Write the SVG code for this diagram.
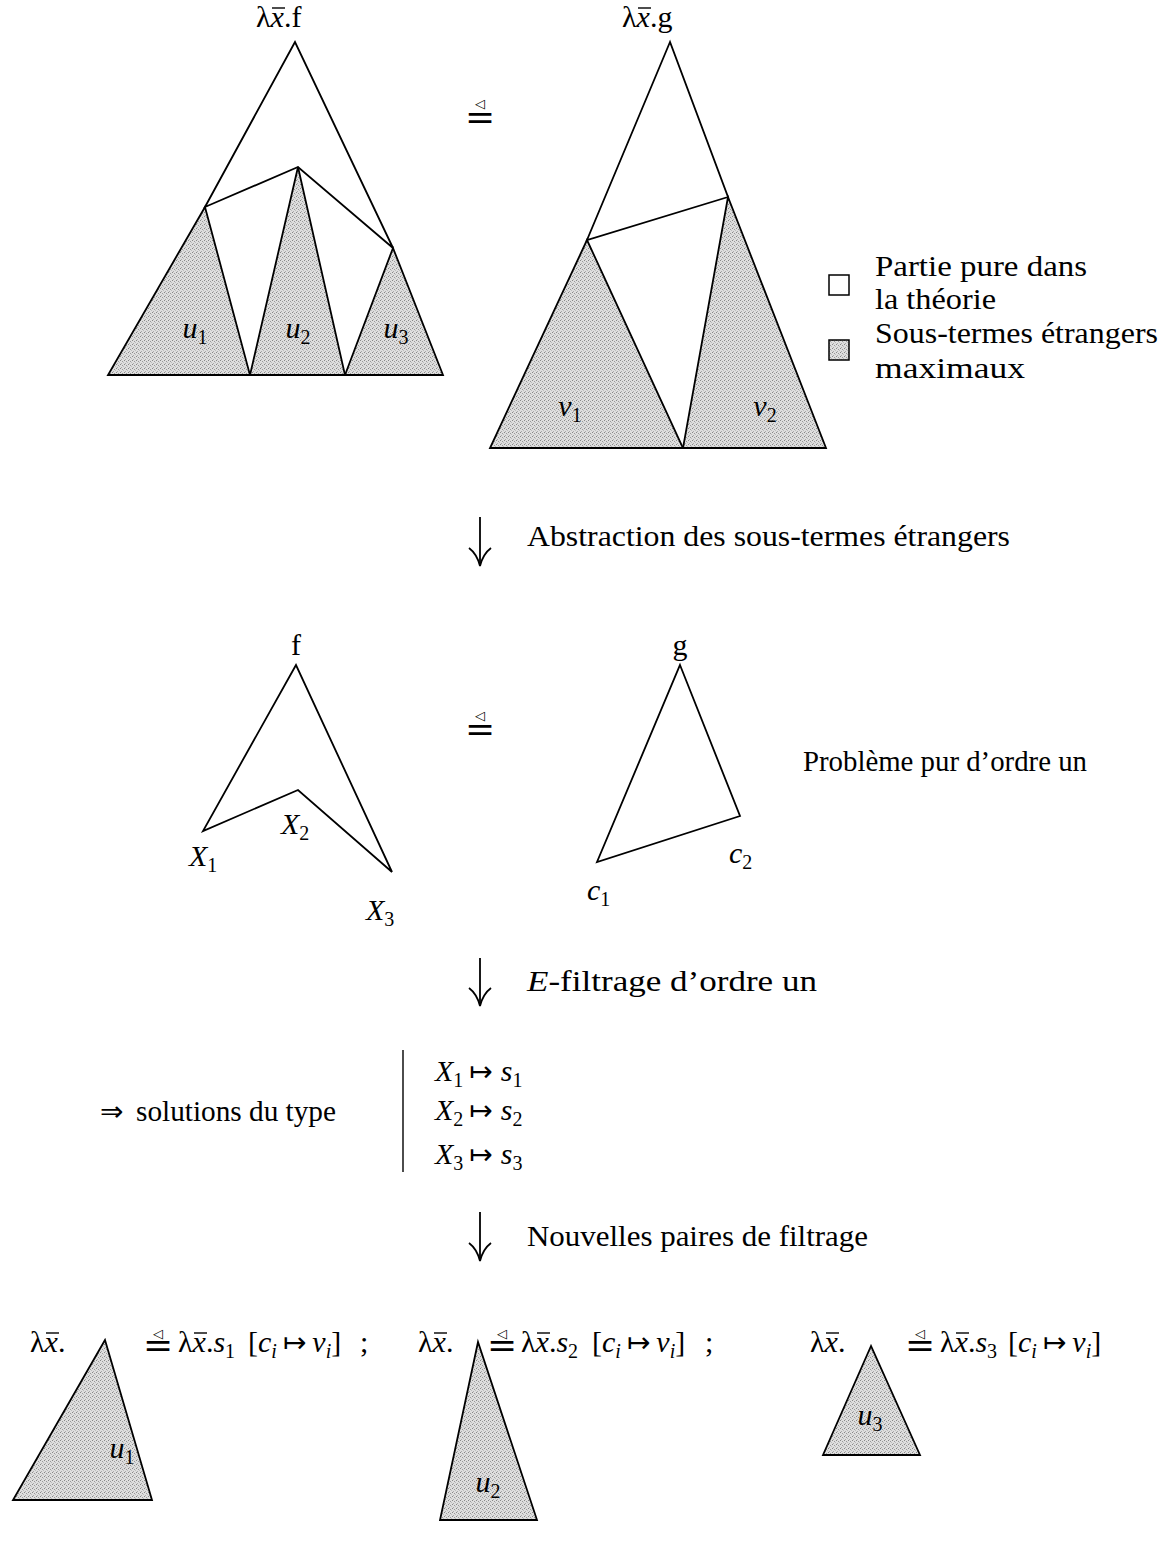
<svg xmlns="http://www.w3.org/2000/svg" width="1175" height="1543" viewBox="0 0 1175 1543">
<style>
.t{font-family:"Liberation Serif","DejaVu Serif",serif;font-size:30px;fill:#000}
.i{font-style:italic}
.n{font-style:normal}
.sub{font-size:20px}
.ar{font-family:"DejaVu Sans",sans-serif;font-size:28px;font-style:normal}
.ln{fill:none;stroke:#000;stroke-width:1.8;stroke-linejoin:miter}
.g{fill:url(#stip);stroke:#000;stroke-width:1.8}
.w{fill:#fff;stroke:#000;stroke-width:1.8}
.ov{stroke:#000;stroke-width:1.4}
.eqs{font-family:"DejaVu Serif",serif;font-size:36px}
.tri{font-family:"DejaVu Sans",sans-serif;font-size:13px}
</style>
<defs>
<pattern id="stip" width="4" height="4" patternUnits="userSpaceOnUse">
<rect width="4" height="4" fill="#dedede"/>
<rect x="0" y="0" width="1" height="1" fill="#888"/>
<rect x="2" y="1" width="1" height="1" fill="#999"/>
<rect x="1" y="3" width="1" height="1" fill="#aaa"/>
<rect x="3" y="2" width="1" height="1" fill="#bbb"/>
</pattern>
</defs>
<rect width="1175" height="1543" fill="#fff"/>

<!-- Top left tree -->
<g id="tree-f">
<text class="t" x="256" y="27">λ<tspan class="i">x</tspan>.f</text>
<line class="ov" x1="272" y1="8" x2="285" y2="8"/>
<polygon class="w" points="295,42 205,207 298,167 393,248"/>
<polygon class="g" points="205,207 108,375 250,375"/>
<polygon class="g" points="298,167 250,375 345,375"/>
<polygon class="g" points="393,248 345,375 443,375"/>
<text class="t i" x="195" y="338" text-anchor="middle">u<tspan class="sub n" dy="6">1</tspan></text>
<text class="t i" x="298" y="338" text-anchor="middle">u<tspan class="sub n" dy="6">2</tspan></text>
<text class="t i" x="396" y="338" text-anchor="middle">u<tspan class="sub n" dy="6">3</tspan></text>
</g>

<g id="eq1">
<text class="tri" x="480" y="108" text-anchor="middle">◁</text>
<text class="eqs" x="480" y="129" text-anchor="middle">=</text>
</g>

<!-- Top right tree -->
<g id="tree-g">
<text class="t" x="622" y="27">λ<tspan class="i">x</tspan>.g</text>
<line class="ov" x1="638" y1="8" x2="651" y2="8"/>
<polygon class="w" points="670,42 587,240 728,197"/>
<polygon class="g" points="587,240 490,448 683,448"/>
<polygon class="g" points="728,197 683,448 826,448"/>
<text class="t i" x="570" y="416" text-anchor="middle">v<tspan class="sub n" dy="6">1</tspan></text>
<text class="t i" x="765" y="416" text-anchor="middle">v<tspan class="sub n" dy="6">2</tspan></text>
</g>

<!-- Legend -->
<g id="legend">
<rect x="829" y="275" width="20" height="20" fill="#fff" stroke="#000" stroke-width="1.5"/>
<text class="t" x="875" y="276" textLength="212" lengthAdjust="spacingAndGlyphs">Partie pure dans</text>
<text class="t" x="875" y="309" textLength="121" lengthAdjust="spacingAndGlyphs">la théorie</text>
<rect x="829" y="340" width="20" height="20" fill="url(#stip)" stroke="#000" stroke-width="1.5"/>
<text class="t" x="875" y="343" textLength="283" lengthAdjust="spacingAndGlyphs">Sous-termes étrangers</text>
<text class="t" x="875" y="378" textLength="150" lengthAdjust="spacingAndGlyphs">maximaux</text>
</g>

<!-- Connectors -->
<g id="connectors">
<line class="ln" x1="480" y1="517" x2="480" y2="565"/>
<path class="ln" d="M469,548 Q477,554 480,566 Q483,554 491,548"/>
<line class="ln" x1="480" y1="958" x2="480" y2="1005"/>
<path class="ln" d="M469,988 Q477,994 480,1006 Q483,994 491,988"/>
<line class="ln" x1="480" y1="1212" x2="480" y2="1260"/>
<path class="ln" d="M469,1243 Q477,1249 480,1261 Q483,1249 491,1243"/>
</g>
<text class="t" x="527" y="546" textLength="483" lengthAdjust="spacingAndGlyphs">Abstraction des sous-termes étrangers</text>
<text class="t" x="527" y="991" textLength="290" lengthAdjust="spacingAndGlyphs"><tspan class="i">E</tspan>-filtrage d’ordre un</text>
<text class="t" x="527" y="1246" textLength="341" lengthAdjust="spacingAndGlyphs">Nouvelles paires de filtrage</text>

<!-- Second row -->
<g id="shape-f">
<text class="t" x="296" y="655" text-anchor="middle">f</text>
<polygon class="w" points="296,665 203,831 298,790 392,872"/>
<text class="t i" x="189" y="866">X<tspan class="sub n" dy="6">1</tspan></text>
<text class="t i" x="281" y="834">X<tspan class="sub n" dy="6">2</tspan></text>
<text class="t i" x="366" y="920">X<tspan class="sub n" dy="6">3</tspan></text>
</g>
<g id="eq2">
<text class="tri" x="480" y="720" text-anchor="middle">◁</text>
<text class="eqs" x="480" y="741" text-anchor="middle">=</text>
</g>
<g id="shape-g">
<text class="t" x="680" y="655" text-anchor="middle">g</text>
<polygon class="w" points="680,665 740,816 597,862"/>
<text class="t i" x="729" y="863">c<tspan class="sub n" dy="6">2</tspan></text>
<text class="t i" x="587" y="900">c<tspan class="sub n" dy="6">1</tspan></text>
</g>
<text class="t" x="803" y="771" textLength="284" lengthAdjust="spacingAndGlyphs">Problème pur d’ordre un</text>

<!-- Solutions -->
<g id="solutions">
<text class="ar" x="100" y="1121">⇒</text>
<text class="t" x="136" y="1121" textLength="200" lengthAdjust="spacingAndGlyphs">solutions du type</text>
<line class="ov" x1="403" y1="1050" x2="403" y2="1172"/>
<text class="t" x="435" y="1081"><tspan class="i">X</tspan><tspan class="sub" dy="6">1</tspan><tspan class="ar" dx="6" dy="-6">↦</tspan><tspan class="i" dx="8">s</tspan><tspan class="sub" dy="6">1</tspan></text>
<text class="t" x="435" y="1120"><tspan class="i">X</tspan><tspan class="sub" dy="6">2</tspan><tspan class="ar" dx="6" dy="-6">↦</tspan><tspan class="i" dx="8">s</tspan><tspan class="sub" dy="6">2</tspan></text>
<text class="t" x="435" y="1164"><tspan class="i">X</tspan><tspan class="sub" dy="6">3</tspan><tspan class="ar" dx="6" dy="-6">↦</tspan><tspan class="i" dx="8">s</tspan><tspan class="sub" dy="6">3</tspan></text>
</g>

<!-- Bottom row -->
<g id="pair1">
<text class="t" x="30" y="1352">λ<tspan class="i">x</tspan>.</text>
<line class="ov" x1="46" y1="1333" x2="59" y2="1333"/>
<polygon class="g" points="105,1340 13,1500 152,1500"/>
<text class="t i" x="122" y="1458" text-anchor="middle">u<tspan class="sub n" dy="6">1</tspan></text>
<text class="tri" x="158" y="1338" text-anchor="middle">◁</text>
<text class="eqs" x="158" y="1357" text-anchor="middle">=</text>
<text class="t" x="178" y="1352">λ<tspan class="i">x</tspan>.<tspan class="i">s</tspan><tspan class="sub" dy="6">1</tspan></text>
<line class="ov" x1="194" y1="1333" x2="207" y2="1333"/>
<text class="t" x="248" y="1352">[<tspan class="i">c</tspan><tspan class="sub i" dy="6">i</tspan><tspan class="ar" dx="6" dy="-6">↦</tspan><tspan class="i" dx="6">v</tspan><tspan class="sub i" dy="6">i</tspan><tspan dy="-6">]</tspan></text>
<text class="t" x="360" y="1352">;</text>
</g>
<g id="pair2">
<text class="t" x="418" y="1352">λ<tspan class="i">x</tspan>.</text>
<line class="ov" x1="434" y1="1333" x2="447" y2="1333"/>
<polygon class="g" points="478,1342 440,1520 537,1520"/>
<text class="t i" x="488" y="1492" text-anchor="middle">u<tspan class="sub n" dy="6">2</tspan></text>
<text class="tri" x="502" y="1338" text-anchor="middle">◁</text>
<text class="eqs" x="502" y="1357" text-anchor="middle">=</text>
<text class="t" x="521" y="1352">λ<tspan class="i">x</tspan>.<tspan class="i">s</tspan><tspan class="sub" dy="6">2</tspan></text>
<line class="ov" x1="537" y1="1333" x2="550" y2="1333"/>
<text class="t" x="592" y="1352">[<tspan class="i">c</tspan><tspan class="sub i" dy="6">i</tspan><tspan class="ar" dx="6" dy="-6">↦</tspan><tspan class="i" dx="6">v</tspan><tspan class="sub i" dy="6">i</tspan><tspan dy="-6">]</tspan></text>
<text class="t" x="705" y="1352">;</text>
</g>
<g id="pair3">
<text class="t" x="810" y="1352">λ<tspan class="i">x</tspan>.</text>
<line class="ov" x1="826" y1="1333" x2="839" y2="1333"/>
<polygon class="g" points="871,1346 823,1455 920,1455"/>
<text class="t i" x="870" y="1425" text-anchor="middle">u<tspan class="sub n" dy="6">3</tspan></text>
<text class="tri" x="920" y="1338" text-anchor="middle">◁</text>
<text class="eqs" x="920" y="1357" text-anchor="middle">=</text>
<text class="t" x="940" y="1352">λ<tspan class="i">x</tspan>.<tspan class="i">s</tspan><tspan class="sub" dy="6">3</tspan></text>
<line class="ov" x1="956" y1="1333" x2="969" y2="1333"/>
<text class="t" x="1008" y="1352">[<tspan class="i">c</tspan><tspan class="sub i" dy="6">i</tspan><tspan class="ar" dx="6" dy="-6">↦</tspan><tspan class="i" dx="6">v</tspan><tspan class="sub i" dy="6">i</tspan><tspan dy="-6">]</tspan></text>
</g>
</svg>
